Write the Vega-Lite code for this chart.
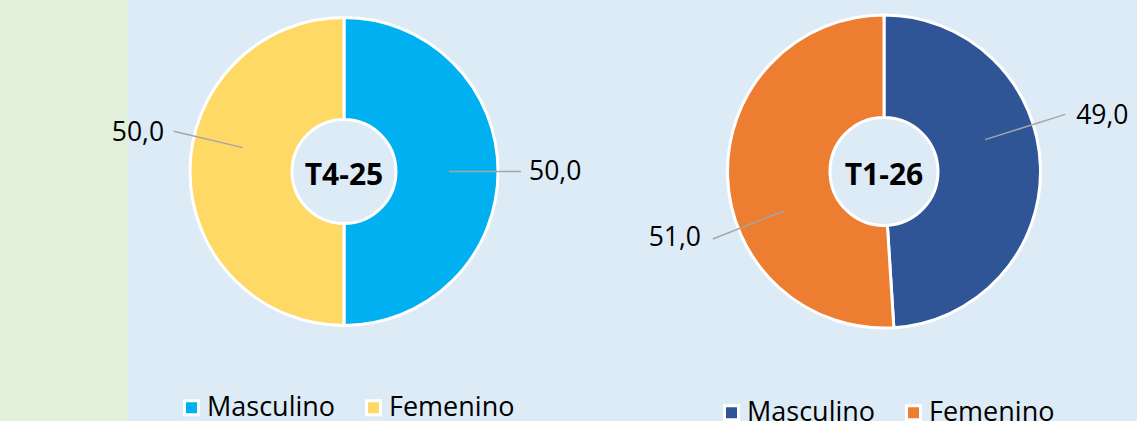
{
  "$schema": "https://vega.github.io/schema/vega-lite/v6.json",
  "background": "#DDEBF7",
  "padding": 0,
  "spacing": 0,
  "bounds": "flush",
  "config": {
    "view": {"stroke": null},
    "font": "Open Sans",
    "locale": {"number": {"decimal": ",", "thousands": ".", "grouping": [3], "currency": ["", " €"]}}
  },
  "datasets": {
    "datos": [
      {"trimestre": "T4-25", "sexo": "Masculino", "valor": 50.0},
      {"trimestre": "T4-25", "sexo": "Femenino", "valor": 50.0},
      {"trimestre": "T1-26", "sexo": "Masculino", "valor": 49.0},
      {"trimestre": "T1-26", "sexo": "Femenino", "valor": 51.0}
    ]
  },
  "hconcat": [
    {
      "width": 128,
      "height": 421,
      "view": {"fill": "#E2EFDA", "stroke": null},
      "data": {"name": "datos"},
      "mark": {"type": "text", "text": ""},
      "encoding": {}
    },
    {
      "width": 1009,
      "height": 343,
      "data": {"name": "datos"},
      "transform": [
        {"stack": "valor", "groupby": ["trimestre"], "sort": [{"field": "sexo", "order": "descending"}], "as": ["ini", "fin"]}
      ],
      "resolve": {"scale": {"color": "independent"}, "legend": {"color": "independent"}},
      "layer": [
        {
          "transform": [{"filter": "datum.trimestre === 'T4-25'"}],
          "mark": {"type": "arc", "innerRadius": 52, "outerRadius": 154, "stroke": "white", "strokeWidth": 3},
          "encoding": {
            "x": {"field": "trimestre", "type": "nominal", "scale": {"type": "point", "domain": ["T4-25", "T1-26"], "range": [216, 756], "padding": 0}, "axis": null},
            "theta": {"field": "ini", "type": "quantitative", "scale": {"domain": [0, 100]}},
            "theta2": {"field": "fin"},
            "color": {
              "field": "sexo", "type": "nominal",
              "scale": {"domain": ["Masculino", "Femenino"], "range": ["#00B0F0", "#FFD966"]},
              "legend": {"title": null, "orient": "none", "direction": "horizontal", "legendX": 50, "legendY": 394, "padding": 0,
                "symbolType": "square", "symbolSize": 196, "symbolStrokeColor": "white", "symbolStrokeWidth": 3, "symbolOpacity": 1,
                "labelFont": "Open Sans", "labelFontSize": 27, "labelColor": "black", "labelOffset": 2, "columnPadding": 24, "labelLimit": 300}
            }
          }
        },
        {
          "transform": [{"filter": "datum.trimestre === 'T1-26'"}],
          "mark": {"type": "arc", "innerRadius": 54, "outerRadius": 156.5, "stroke": "white", "strokeWidth": 3},
          "encoding": {
            "x": {"field": "trimestre", "type": "nominal", "scale": {"type": "point", "domain": ["T4-25", "T1-26"], "range": [216, 756], "padding": 0}, "axis": null},
            "theta": {"field": "ini", "type": "quantitative", "scale": {"domain": [0, 100]}},
            "theta2": {"field": "fin"},
            "color": {
              "field": "sexo", "type": "nominal",
              "scale": {"domain": ["Masculino", "Femenino"], "range": ["#2F5597", "#ED7D31"]},
              "legend": {"title": null, "orient": "none", "direction": "horizontal", "legendX": 590, "legendY": 399, "padding": 0,
                "symbolType": "square", "symbolSize": 196, "symbolStrokeColor": "white", "symbolStrokeWidth": 3, "symbolOpacity": 1,
                "labelFont": "Open Sans", "labelFontSize": 27, "labelColor": "black", "labelOffset": 2, "columnPadding": 24, "labelLimit": 300}
            }
          }
        },
        {
          "transform": [{"filter": "datum.trimestre === 'T4-25' && datum.sexo === 'Masculino'"}],
          "mark": {"type": "arc", "innerRadius": 105, "outerRadius": 177, "thetaOffset": 1.5708, "theta2Offset": 1.5708, "filled": false, "stroke": "#A6A6A6", "strokeWidth": 1.5},
          "encoding": {
            "x": {"field": "trimestre", "type": "nominal"},
            "theta": {"field": "ini", "type": "quantitative"},
            "theta2": {"field": "ini"}
          }
        },
        {
          "transform": [{"filter": "datum.trimestre === 'T4-25' && datum.sexo === 'Femenino'"}],
          "mark": {"type": "arc", "innerRadius": 104, "outerRadius": 175, "thetaOffset": 1.8026, "theta2Offset": 1.8026, "filled": false, "stroke": "#A6A6A6", "strokeWidth": 1.5},
          "encoding": {
            "x": {"field": "trimestre", "type": "nominal"},
            "theta": {"field": "ini", "type": "quantitative"},
            "theta2": {"field": "ini"}
          }
        },
        {
          "transform": [{"filter": "datum.trimestre === 'T1-26' && datum.sexo === 'Masculino'"}],
          "mark": {"type": "arc", "innerRadius": 106, "outerRadius": 190, "thetaOffset": 1.2654, "theta2Offset": 1.2654, "filled": false, "stroke": "#A6A6A6", "strokeWidth": 1.5},
          "encoding": {
            "x": {"field": "trimestre", "type": "nominal"},
            "theta": {"field": "ini", "type": "quantitative"},
            "theta2": {"field": "ini"}
          }
        },
        {
          "transform": [{"filter": "datum.trimestre === 'T1-26' && datum.sexo === 'Femenino'"}],
          "mark": {"type": "arc", "innerRadius": 107, "outerRadius": 184, "thetaOffset": 1.2584, "theta2Offset": 1.2584, "filled": false, "stroke": "#A6A6A6", "strokeWidth": 1.5},
          "encoding": {
            "x": {"field": "trimestre", "type": "nominal"},
            "theta": {"field": "ini", "type": "quantitative"},
            "theta2": {"field": "ini"}
          }
        },
        {
          "transform": [{"filter": "datum.trimestre === 'T4-25' && datum.sexo === 'Masculino'"}],
          "mark": {"type": "text", "radius": 185, "thetaOffset": 1.5708, "align": "left", "baseline": "middle", "fontSize": 26.5, "font": "Open Sans", "color": "black"},
          "encoding": {
            "x": {"field": "trimestre", "type": "nominal"},
            "theta": {"field": "ini", "type": "quantitative"},
            "text": {"field": "valor", "type": "quantitative", "format": ".1f"}
          }
        },
        {
          "transform": [{"filter": "datum.trimestre === 'T4-25' && datum.sexo === 'Femenino'"}],
          "mark": {"type": "text", "radius": 184, "thetaOffset": 1.7815, "align": "right", "baseline": "middle", "fontSize": 26.5, "font": "Open Sans", "color": "black"},
          "encoding": {
            "x": {"field": "trimestre", "type": "nominal"},
            "theta": {"field": "ini", "type": "quantitative"},
            "text": {"field": "valor", "type": "quantitative", "format": ".1f"}
          }
        },
        {
          "transform": [{"filter": "datum.trimestre === 'T1-26' && datum.sexo === 'Masculino'"}],
          "mark": {"type": "text", "radius": 200, "thetaOffset": 1.2895, "align": "left", "baseline": "middle", "fontSize": 26.5, "font": "Open Sans", "color": "black"},
          "encoding": {
            "x": {"field": "trimestre", "type": "nominal"},
            "theta": {"field": "ini", "type": "quantitative"},
            "text": {"field": "valor", "type": "quantitative", "format": ".1f"}
          }
        },
        {
          "transform": [{"filter": "datum.trimestre === 'T1-26' && datum.sexo === 'Femenino'"}],
          "mark": {"type": "text", "radius": 194.7, "thetaOffset": 1.2851, "align": "right", "baseline": "middle", "fontSize": 26.5, "font": "Open Sans", "color": "black"},
          "encoding": {
            "x": {"field": "trimestre", "type": "nominal"},
            "theta": {"field": "ini", "type": "quantitative"},
            "text": {"field": "valor", "type": "quantitative", "format": ".1f"}
          }
        },
        {
          "transform": [{"filter": "datum.sexo === 'Masculino'"}],
          "mark": {"type": "text", "align": "center", "baseline": "middle", "dy": 4, "fontSize": 30, "fontWeight": "bold", "font": "Open Sans", "color": "black"},
          "encoding": {
            "x": {"field": "trimestre", "type": "nominal"},
            "text": {"field": "trimestre", "type": "nominal"}
          }
        }
      ]
    }
  ]
}
